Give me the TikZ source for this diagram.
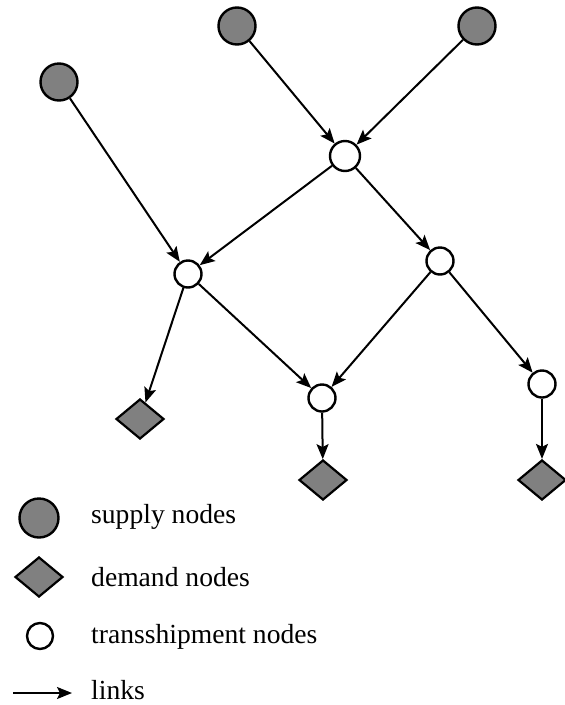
\documentclass[tikz,border=0pt]{standalone}
\usepackage{fontspec}
\setmainfont{Liberation Serif}
\usetikzlibrary{shapes.geometric,arrows.meta}

\begin{document}
\begin{tikzpicture}[x=1pt,y=-1pt,
  supply/.style={circle,draw,fill=gray,line width=2.4pt,minimum size=37pt,inner sep=0pt},
  trans/.style={circle,draw,fill=white,line width=2.4pt,minimum size=27pt,inner sep=0pt},
  demand/.style={diamond,draw,fill=gray,line width=2.2pt,minimum width=48pt,minimum height=40pt,inner sep=0pt},
  link/.style={-{Stealth[length=15pt,width=12pt,inset=3pt]},line width=2pt},
  legtext/.style={anchor=west,inner sep=0pt,font=\fontsize{27.6}{32}\selectfont}]
  \useasboundingbox (0,0) rectangle (565,705);
  % supply
  \node[supply] (s1) at (59,82) {};
  \node[supply] (s2) at (237,26) {};
  \node[supply] (s3) at (477,26) {};
  % transshipment
  \node[trans,minimum size=30pt] (t1) at (345,156) {};
  \node[trans] (t2) at (188,274) {};
  \node[trans] (t3) at (440,261) {};
  \node[trans] (t4) at (322,398) {};
  \node[trans] (t5) at (542,384) {};
  % demand
  \node[demand] (d1) at (140,419) {};
  \node[demand] (d2) at (323,480) {};
  \node[demand] (d3) at (542,480) {};
  % links
  \foreach \a/\b in {s1/t2,s2/t1,s3/t1,t1/t2,t1/t3,t2/d1,t2/t4,t3/t4,t3/t5,t4/d2,t5/d3}
    \draw[link] (\a) -- (\b);
  % legend
  \node[supply,minimum size=39pt] (ls) at (39,518) {};
  \node[demand] (ld) at (39,577) {};
  \node[trans,minimum size=26pt] (lt) at (40,636) {};
  \coordinate (la) at (13,693);
  \coordinate (lb) at (72,693);
  \draw[link] (la) -- (lb);
  \node[legtext] (lst) at (91,517) {supply nodes};
  \node[legtext] (ldt) at (91,577) {demand nodes};
  \node[legtext] (ltt) at (91,637) {transshipment nodes};
  \node[legtext] (lat) at (91,690) {links};
\end{tikzpicture}
\end{document}
